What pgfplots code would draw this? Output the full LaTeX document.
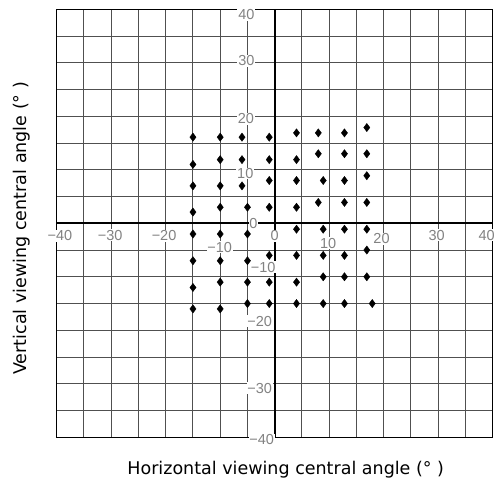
\documentclass[border=0pt]{standalone}
\usepackage{fontspec}
\setmainfont{DejaVu Sans}
\newfontfamily\tickfont{Liberation Sans}
\usepackage{pgfplots}
\pgfplotsset{compat=1.18}
\definecolor{gridc}{RGB}{80,80,80}
\definecolor{labc}{RGB}{130,130,130}

\pgfplotstableread{
x y
-15 16.1
-15 11.0
-15 7.0
-15 2.1
-15 -2.0
-15 -7.0
-15 -12.0
-15 -16.0
-10 16.1
-10 11.9
-10 7.0
-10 3.0
-10 -2.0
-10 -7.0
-10 -11.0
-10 -16.0
-6 16.1
-6 11.9
-6 7.0
-5 3.0
-5 -2.0
-5 -7.0
-5 -11.0
-5 -15.0
-1 16.1
-1 11.9
-1 8.0
-1 3.0
-1 -6.0
-1 -11.0
-1 -15.0
4 16.9
4 11.9
4 8.0
4 3.0
4 -1.1
4 -6.0
4 -11.0
4 -15.0
8 16.9
8 13.0
8 3.9
8.9 8.0
8.9 -1.1
8.9 -6.0
8.9 -10.0
8.9 -15.0
12.8 16.9
12.8 13.0
12.8 8.0
12.8 3.9
12.8 -1.1
12.8 -6.0
12.8 -10.0
12.8 -15.0
16.9 17.9
16.9 13.0
16.9 8.9
16.9 3.9
16.9 -1.1
16.9 -5.0
16.9 -10.0
17.9 -15.0
}\points

\begin{document}
\begin{tikzpicture}
\begin{axis}[
  set layers,
  scale only axis, width=436bp, height=428bp,
  xmin=-40, xmax=40, ymin=-40, ymax=40,
  xtick={-40,-35,...,40}, ytick={-40,-35,...,40},
  xticklabels={}, yticklabels={},
  major tick length=0pt,
  grid=major, grid style={gridc, line width=1bp},
  extra x ticks={0}, extra y ticks={0},
  extra x tick labels={}, extra y tick labels={},
  extra tick style={grid style={black, line width=1.8bp}, major tick length=0pt},
  axis line style={black, line width=1.4bp},
  clip=false,
  xlabel={Horizontal viewing central angle (° )},
  ylabel={Vertical viewing central angle (° )},
  label style={font=\fontsize{17.5bp}{20bp}\selectfont},
  xlabel style={at={(axis description cs:0.5,0)}, anchor=center, yshift=-32bp, xshift=11bp},
  ylabel style={at={(axis description cs:0,0.5)}, anchor=center, yshift=34.7bp, xshift=-5bp},
]
\addplot[only marks, mark=diamond*, mark size=4.1bp, black] table[x=x,y=y] {\points};

\begin{scope}[every node/.style={fill=white, inner sep=0.8bp, text=labc, font=\tickfont\fontsize{14.5bp}{16bp}\selectfont}]
\node at (axis cs:-39.4,-2.3) {−40};
\node at (axis cs:-30.2,-2.2) {−30};
\node at (axis cs:-20.3,-2.3) {−20};
\node at (axis cs:-10.1,-4.5) {−10};
\node at (axis cs:0,-2.3) {0};
\node at (axis cs:9.8,-3.7) {10};
\node at (axis cs:19.6,-2.9) {20};
\node at (axis cs:29.7,-2.2) {30};
\node at (axis cs:38.9,-2.2) {40};
\node at (axis cs:-5.2,39.0) {40};
\node at (axis cs:-5.2,30.4) {30};
\node at (axis cs:-5.3,19.5) {20};
\node at (axis cs:-5.4,9.3) {10};
\node at (axis cs:-3.9,0) {0};
\node at (axis cs:-2.1,-8.2) {−10};
\node at (axis cs:-2.75,-18.3) {−20};
\node at (axis cs:-2.75,-30.8) {−30};
\node at (axis cs:-2.4,-40.5) {−40};
\end{scope}
\end{axis}
\pgfresetboundingbox
\path (current axis.south west) ++(-56.7bp,-43.7bp) coordinate (bbA);
\path (current axis.north east) ++(3.3bp,9.3bp) coordinate (bbB);
\useasboundingbox (bbA) rectangle (bbB);
\end{tikzpicture}
\end{document}
